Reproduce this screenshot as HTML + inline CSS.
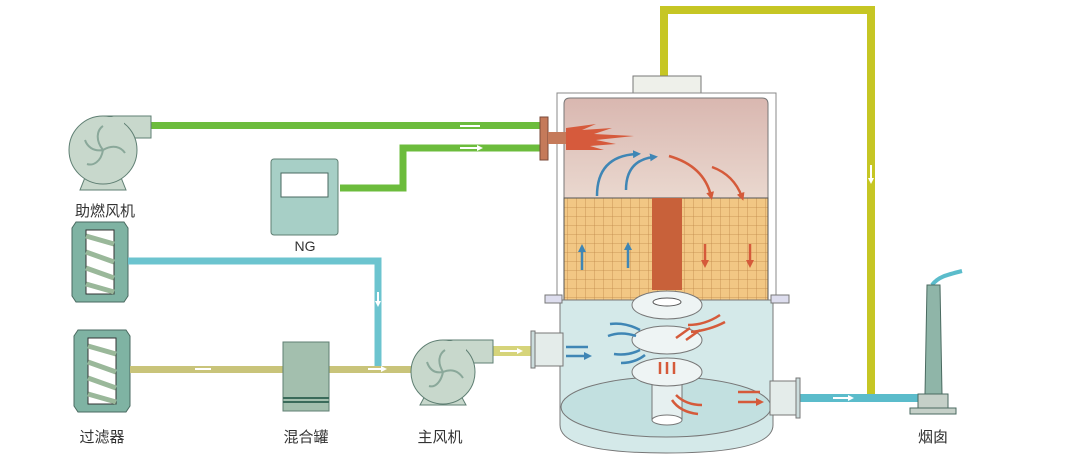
<!DOCTYPE html>
<html><head><meta charset="utf-8"><style>
body{margin:0;background:#fff}
svg{display:block}
text{font-family:"Liberation Sans","Noto Sans CJK SC",sans-serif;fill:#333}
</style></head><body>
<svg width="1066" height="464" viewBox="0 0 1066 464" xmlns="http://www.w3.org/2000/svg">
<defs>
<linearGradient id="up" x1="0" y1="0" x2="0" y2="1"><stop offset="0" stop-color="#d9b7b0"/><stop offset="0.5" stop-color="#ead8cf"/><stop offset="1" stop-color="#e0c59a"/></linearGradient>
<pattern id="grid" width="9" height="9" patternUnits="userSpaceOnUse"><rect width="9" height="9" fill="#f2c784"/><path d="M0 0H9M0 0V9" stroke="#c0894a" stroke-width="0.8"/></pattern>
<marker id="ab" markerUnits="userSpaceOnUse" markerWidth="8" markerHeight="8" refX="4" refY="4" orient="auto"><path d="M0 0L8 4L0 8z" fill="#3f86b5"/></marker>
<marker id="ar" markerUnits="userSpaceOnUse" markerWidth="8" markerHeight="8" refX="4" refY="4" orient="auto"><path d="M0 0L8 4L0 8z" fill="#d55a3a"/></marker>
<marker id="aw" markerUnits="userSpaceOnUse" markerWidth="6" markerHeight="6" refX="3" refY="3" orient="auto"><path d="M0 0L6 3L0 6z" fill="#fff"/></marker>
</defs>
<!-- yellow top pipe -->
<path d="M664 77V10H871V395" fill="none" stroke="#c6c624" stroke-width="8"/>
<path d="M871 165v16" stroke="#fff" stroke-width="2" marker-end="url(#aw)"/>
<!-- cyan outlet pipe -->
<rect x="798" y="394" width="122" height="8" fill="#5bbccb"/>
<path d="M833 398h18" stroke="#fff" stroke-width="2" marker-end="url(#aw)"/>
<!-- chimney -->
<path d="M932 285c6-8 14-10 30-14" stroke="#5bbccb" stroke-width="4" fill="none"/>
<polygon points="927,285 940,285 942,394 925,394" fill="#8fb5a8" stroke="#4a6a60"/>
<rect x="918" y="394" width="30" height="14" fill="#c5d0c8" stroke="#4a6a60"/>
<rect x="910" y="408" width="46" height="6" fill="#c5d0c8" stroke="#4a6a60"/>
<text x="933" y="442" font-size="15" text-anchor="middle">烟囱</text>
<!-- green pipes -->
<rect x="150" y="122" width="392" height="7" fill="#6cbc3c"/>
<path d="M340 188H403V148H542" fill="none" stroke="#6cbc3c" stroke-width="7"/>
<path d="M460 126h20M460 148h20" stroke="#fff" stroke-width="2" marker-end="url(#aw)"/>
<!-- combustion fan -->
<polygon points="80,190 126,190 120,175 86,175" fill="#c8d8cc" stroke="#5f7f73"/>
<rect x="103" y="116" width="48" height="22" fill="#c8d8cc" stroke="#5f7f73"/>
<circle cx="103" cy="150" r="34" fill="#c8d8cc" stroke="#5f7f73"/>
<rect x="104" y="117" width="20" height="20" fill="#c8d8cc"/>
<path d="M103 150c-8-10-6-20 0-24M103 150c10-6 18-3 22 3M103 150c-2 12-10 16-16 14M103 150c-10 2-16-4-18-10" stroke="#8aa89a" stroke-width="2" fill="none"/>
<text x="105" y="216" font-size="15" text-anchor="middle">助燃风机</text>
<!-- NG box -->
<rect x="271" y="159" width="67" height="76" rx="3" fill="#a7cfc6" stroke="#5f7f73"/>
<rect x="281" y="173" width="47" height="24" fill="#fff" stroke="#4a6a60"/>
<text x="305" y="251" font-size="14" text-anchor="middle">NG</text>
<!-- filters -->
<g stroke="#4a6a60" fill="#7fb3a3">
<polygon points="76,222 124,222 128,228 128,296 124,302 76,302 72,296 72,228"/>
<polygon points="78,330 126,330 130,336 130,406 126,412 78,412 74,406 74,336"/>
</g>
<rect x="86" y="230" width="28" height="64" fill="#fff" stroke="#333"/>
<rect x="88" y="338" width="28" height="66" fill="#fff" stroke="#333"/>
<path d="M86 236l28 8M86 252l28 10M86 268l28 10M86 284l28 8M88 346l28 8M88 362l28 10M88 378l28 10M88 394l28 8" stroke="#9ab89a" stroke-width="5"/>
<text x="102" y="442" font-size="15" text-anchor="middle">过滤器</text>
<!-- cyan pipe -->
<path d="M128 261H378V370" fill="none" stroke="#6cc4cf" stroke-width="7"/>
<path d="M378 292v12" stroke="#fff" stroke-width="2" marker-end="url(#aw)"/>
<!-- yellow bottom pipe -->
<rect x="130" y="366" width="285" height="7" fill="#c9c47a"/>
<path d="M195 369h16M368 369h16" stroke="#fff" stroke-width="2" marker-end="url(#aw)"/>
<rect x="490" y="346" width="46" height="10" fill="#d6d47a"/>
<path d="M500 351h20" stroke="#fff" stroke-width="2" marker-end="url(#aw)"/>
<!-- mixer -->
<rect x="283" y="342" width="46" height="69" fill="#a3bfae" stroke="#5f7f73"/>
<path d="M283 398h46M283 402h46" stroke="#3a6a5a" stroke-width="2"/>
<text x="306" y="442" font-size="15" text-anchor="middle">混合罐</text>
<!-- main fan -->
<polygon points="420,405 466,405 459,392 427,392" fill="#c8d8cc" stroke="#5f7f73"/>
<rect x="443" y="340" width="50" height="23" fill="#c8d8cc" stroke="#5f7f73"/>
<circle cx="443" cy="372" r="32" fill="#c8d8cc" stroke="#5f7f73"/>
<rect x="444" y="341" width="22" height="21" fill="#c8d8cc"/>
<path d="M443 372c-6-10-4-18 2-22M443 372c10-4 16 0 20 6M443 372c-2 10-8 16-14 14M443 372c-10 2-14-4-16-10" stroke="#8aa89a" stroke-width="2" fill="none"/>
<text x="440" y="442" font-size="15" text-anchor="middle">主风机</text>
<!-- tower -->
<rect x="633" y="76" width="68" height="17" fill="#eef0ea" stroke="#777"/>
<rect x="557" y="93" width="219" height="207" fill="#fff" stroke="#888"/>
<path d="M564 300V104q0-6 6-6h192q6 0 6 6V300z" fill="url(#up)" stroke="#777"/>
<rect x="564" y="198" width="204" height="102" fill="url(#grid)" stroke="#555"/>
<rect x="652" y="198" width="30" height="92" fill="#c8613a"/>
<!-- burner -->
<rect x="540" y="117" width="8" height="43" fill="#c57a5a" stroke="#7a4a3a"/>
<rect x="548" y="132" width="18" height="12" fill="#c57a5a"/>
<path d="M566 128l30-4l-14 6l30-2l-18 6l40 2l-38 4l20 4l-26 2l14 4l-38 0z" fill="#d65a3c"/>
<!-- arrows upper -->
<g fill="none" stroke-width="2.5">
<path d="M597 196q0-40 40-42" stroke="#3f86b5" marker-end="url(#ab)"/>
<path d="M626 190q0-30 28-33" stroke="#3f86b5" marker-end="url(#ab)"/>
<path d="M669 156q35 10 42 40" stroke="#d55a3a" marker-end="url(#ar)"/>
<path d="M712 167q22 8 30 30" stroke="#d55a3a" marker-end="url(#ar)"/>
<path d="M582 270v-22" stroke="#3f86b5" marker-end="url(#ab)"/>
<path d="M628 268v-22" stroke="#3f86b5" marker-end="url(#ab)"/>
<path d="M705 244v20" stroke="#d55a3a" marker-end="url(#ar)"/>
<path d="M750 244v20" stroke="#d55a3a" marker-end="url(#ar)"/>
</g>
<!-- lower vessel -->
<path d="M560 300H773V425Q773 453 666 453Q560 453 560 425z" fill="#d4e9e9" stroke="#777"/>
<ellipse cx="666" cy="407" rx="105" ry="30" fill="#c2e0e0" stroke="#777"/>
<rect x="545" y="295" width="17" height="8" fill="#dde" stroke="#777"/>
<rect x="771" y="295" width="18" height="8" fill="#dde" stroke="#777"/>
<rect x="652" y="375" width="30" height="45" fill="#e6f0f0" stroke="#777"/>
<ellipse cx="667" cy="420" rx="15" ry="5" fill="#fff" stroke="#777"/>
<ellipse cx="667" cy="305" rx="35" ry="14" fill="#eef4f4" stroke="#777"/>
<ellipse cx="667" cy="340" rx="35" ry="14" fill="#eef4f4" stroke="#777"/>
<ellipse cx="667" cy="372" rx="35" ry="14" fill="#eef4f4" stroke="#777"/>
<ellipse cx="667" cy="302" rx="14" ry="4" fill="#fff" stroke="#555"/>
<!-- inlet/outlet -->
<rect x="533" y="333" width="30" height="33" fill="#e4ecea" stroke="#777"/>
<rect x="531" y="331" width="4" height="37" fill="#cdd" stroke="#777"/>
<rect x="770" y="381" width="28" height="34" fill="#e4ecea" stroke="#777"/>
<rect x="796" y="378" width="4" height="40" fill="#cdd" stroke="#777"/>
<g fill="none" stroke-width="2.5">
<path d="M566 347h22M566 356h22" stroke="#3f86b5" marker-end="url(#ab)"/>
<path d="M738 392h22M738 402h22" stroke="#d55a3a" marker-end="url(#ar)"/>
<path d="M640 330q-15-8-30-6M636 336q-15-5-28 0M640 350q-12 6-26 4M645 355q-10 8-24 8" stroke="#3f86b5"/>
<path d="M720 315q-15 10-32 10M725 322q-15 8-34 10M690 328l-14 10M700 330l-14 10" stroke="#d55a3a"/>
<path d="M667 362v12M660 362v12M674 362v12M676 395q10 10 26 10M672 400q8 12 26 14" stroke="#d55a3a"/>
</g>
</svg>
</body></html>
